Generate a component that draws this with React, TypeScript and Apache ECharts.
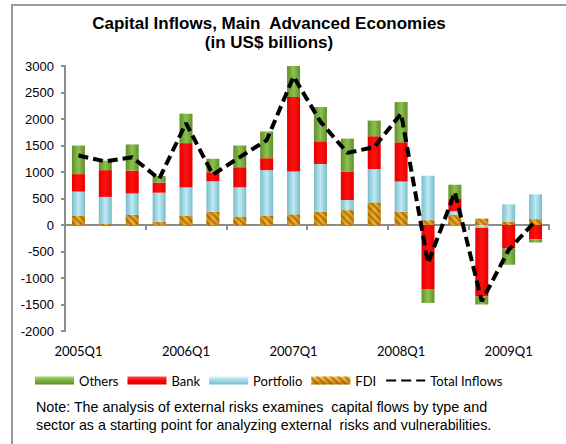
import React, { useEffect, useRef } from "react";
import * as echarts from "echarts";

const quarters = [
  "2005Q1", "2005Q2", "2005Q3", "2005Q4",
  "2006Q1", "2006Q2", "2006Q3", "2006Q4",
  "2007Q1", "2007Q2", "2007Q3", "2007Q4",
  "2008Q1", "2008Q2", "2008Q3", "2008Q4",
  "2009Q1", "2009Q2",
];
const fdi = [170, 25, 190, 60, 170, 250, 160, 170, 200, 250, 280, 425, 250, 90, 190, 120, 60, 110];
const portfolio = [460, 505, 405, 550, 540, 575, 550, 865, 810, 900, 190, 630, 570, 840, 70, -50, 330, 470];
const bank = [330, 505, 430, 190, 835, 170, 380, 225, 1405, 430, 540, 620, 740, -1210, 230, -1300, -440, -270];
const others = [540, 180, 495, 125, 555, 255, 410, 505, 615, 645, 620, 295, 760, -260, 270, -150, -310, -60];
const totalInflows = [1310, 1200, 1280, 870, 1920, 950, 1280, 1600, 2800, 1950, 1360, 1470, 2100, -720, 620, -1440, -470, 80];

const titleLines = ["Capital Inflows, Main  Advanced Economies", "(in US$ billions)"];
const noteLines = [
  "Note: The analysis of external risks examines  capital flows by type and",
  "sector as a starting point for analyzing external  risks and vulnerabilities.",
];

const hGrad = (edge: string, mid: string) =>
  new echarts.graphic.LinearGradient(0, 0, 1, 0, [
    { offset: 0, color: edge },
    { offset: 0.5, color: mid },
    { offset: 1, color: edge },
  ]);
const vGrad = (top: string, mid: string, bottom: string) =>
  new echarts.graphic.LinearGradient(0, 0, 0, 1, [
    { offset: 0, color: top },
    { offset: 0.5, color: mid },
    { offset: 1, color: bottom },
  ]);

export default function App() {
  const ref = useRef<HTMLDivElement>(null);
  useEffect(() => {
    if (!ref.current) return;
    const chart = echarts.init(ref.current, null, { renderer: "svg" });
    const labelFont = "Lato";
    chart.setOption({
      animation: false,
      backgroundColor: "#ffffff",
      grid: { left: 65, top: 66, width: 484, height: 265, containLabel: false },
      legend: {
        left: 30,
        top: 369,
        itemWidth: 39,
        itemHeight: 8,
        itemGap: 9,
        textStyle: { fontFamily: labelFont, fontSize: 13, color: "#000" },
        data: [
          { name: "Others", icon: "rect", itemStyle: { color: vGrad("#a8d86a", "#7cb23e", "#5e8c2a") } },
          { name: "Bank", icon: "rect", itemStyle: { color: vGrad("#ff5050", "#ff0000", "#d80000") } },
          { name: "Portfolio", icon: "rect", itemStyle: { color: vGrad("#d8f4fa", "#9ed8e6", "#79bccc") } },
          { name: "FDI", icon: "rect", itemStyle: { color: vGrad("#f8c850", "#e8a020", "#b87808") } },
          { name: "Total Inflows", itemStyle: { opacity: 0 } },
        ],
      },
      xAxis: [
        {
          type: "category",
          data: quarters,
          axisLine: { onZero: true, lineStyle: { color: "#8c8c8c", width: 2 } },
          axisTick: { show: true, length: 5, lineStyle: { color: "#8c8c8c", width: 2 } },
          axisLabel: { show: false },
        },
        {
          type: "category",
          data: quarters,
          position: "bottom",
          axisLine: { show: false },
          axisTick: { show: false },
          axisLabel: {
            interval: 3,
            margin: 13,
            fontFamily: labelFont,
            fontSize: 13,
            color: "#000",
          },
        },
      ],
      yAxis: {
        type: "value",
        min: -2000,
        max: 3000,
        interval: 500,
        axisLine: { show: true, lineStyle: { color: "#8c8c8c", width: 2 } },
        axisTick: { show: true, length: 4, lineStyle: { color: "#8c8c8c", width: 2 } },
        splitLine: { show: false },
        axisLabel: {
          margin: 11,
          fontFamily: "Liberation Sans",
          fontSize: 13,
          color: "#000",
          formatter: (v: number) => String(v),
        },
      },
      series: [
        {
          name: "FDI",
          type: "bar",
          stack: "flows",
          barWidth: 13,
          data: fdi,
          itemStyle: {
            color: hGrad("#c98a10", "#f0b030"),
            decal: {
              symbol: "rect",
              symbolSize: 1,
              dashArrayX: [1, 0],
              dashArrayY: [2, 3],
              rotation: Math.PI / 4,
              color: "rgba(130,75,0,0.55)",
            },
          },
        },
        {
          name: "Portfolio",
          type: "bar",
          stack: "flows",
          barWidth: 13,
          data: portfolio,
          itemStyle: { color: hGrad("#78bccb", "#bfeaf3") },
        },
        {
          name: "Bank",
          type: "bar",
          stack: "flows",
          barWidth: 13,
          data: bank,
          itemStyle: { color: hGrad("#e60000", "#ff1010") },
        },
        {
          name: "Others",
          type: "bar",
          stack: "flows",
          barWidth: 13,
          data: others,
          itemStyle: { color: hGrad("#5f8f2c", "#8cc24c") },
        },
        {
          name: "Total Inflows",
          type: "line",
          data: totalInflows,
          symbol: "none",
          z: 5,
          lineStyle: { color: "#000", width: 4, type: [10, 5] },
          itemStyle: { color: "#000" },
        },
      ],
      graphic: [
        {
          type: "rect",
          shape: { x: 12, y: 5, width: 600, height: 500 },
          style: { fill: "none", stroke: "#9a9a9a", lineWidth: 2 },
          silent: true,
        },
        {
          type: "text",
          x: 269,
          y: 33,
          style: {
            text: titleLines.join("\n"),
            fontFamily: "Liberation Sans",
            fontSize: 17,
            lineHeight: 18.5,
            fontWeight: "bold",
            fill: "#000",
            textAlign: "center",
            textVerticalAlign: "middle",
          },
        },
        {
          type: "text",
          x: 36,
          y: 416,
          style: {
            text: noteLines.join("\n"),
            fontFamily: "Liberation Sans",
            fontSize: 14.3,
            lineHeight: 18,
            fill: "#000",
            textAlign: "left",
            textVerticalAlign: "middle",
          },
        },
      ],
    });
    return () => chart.dispose();
  }, []);
  return (
    <div
      ref={ref}
      style={{ position: "fixed", left: 0, top: 0, width: 566, height: 444 }}
    />
  );
}
